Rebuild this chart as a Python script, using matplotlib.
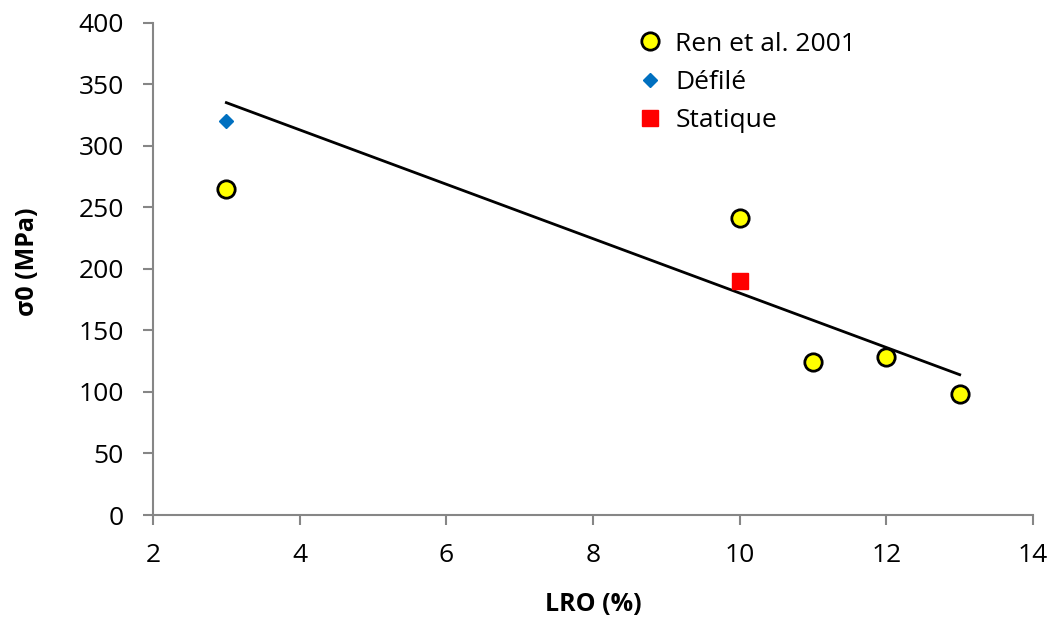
import matplotlib
matplotlib.use("Agg")
import matplotlib.pyplot as plt

plt.rcParams['font.family'] = ['Open Sans', 'DejaVu Sans']

# Data
ren_x = [3, 10, 11, 12, 13]
ren_y = [265, 241, 124, 128, 98]
defile_x = [3]
defile_y = [320]
statique_x = [10]
statique_y = [190]
trend_x = [3, 13]
trend_y = [335, 114]

xticks = [2, 4, 6, 8, 10, 12, 14]
yticks = [0, 50, 100, 150, 200, 250, 300, 350, 400]

fig = plt.figure(figsize=(10.51, 6.17), dpi=100)
ax = fig.add_axes([0.1456, 0.1653, 0.8373, 0.798])

ax.plot(trend_x, trend_y, color='black', lw=2, zorder=2)
ax.plot(ren_x, ren_y, 'o', ms=12.5, mfc='#FFFF00', mec='black', mew=2, ls='none', zorder=3, label='Ren et al. 2001')
ax.plot(defile_x, defile_y, 'D', ms=7.5, mfc='#0070C0', mec='#0070C0', ls='none', zorder=3, label='Défilé')
ax.plot(statique_x, statique_y, 's', ms=11, mfc='#FF0000', mec='#FF0000', ls='none', zorder=3, label='Statique')

ax.set_xlim(2, 14)
ax.set_ylim(0, 400)
ax.set_xticks(xticks)
ax.set_yticks(yticks)

gray = '#868686'
for s in ['top', 'right']:
    ax.spines[s].set_visible(False)
for s in ['left', 'bottom']:
    ax.spines[s].set_color(gray)
    ax.spines[s].set_linewidth(1.5)
ax.tick_params(axis='both', colors=gray, width=1.5, length=7, direction='out', labelsize=19, labelcolor='black')
ax.tick_params(axis='x', pad=13)
ax.tick_params(axis='y', pad=14)

ax.set_xlabel('LRO (%)', fontsize=18, fontweight='bold')
ax.set_ylabel('σ0 (MPa)', fontsize=18, fontweight='bold')
ax.xaxis.set_label_coords(0.5, -0.157)
ax.yaxis.set_label_coords(-0.128, 0.515)

leg = ax.legend(loc='upper left', bbox_to_anchor=(0.52, 1.03), frameon=False, fontsize=19,
                handletextpad=0.35, labelspacing=0.5, handlelength=1.2, numpoints=1)

fig.savefig('out.png', dpi=100)
